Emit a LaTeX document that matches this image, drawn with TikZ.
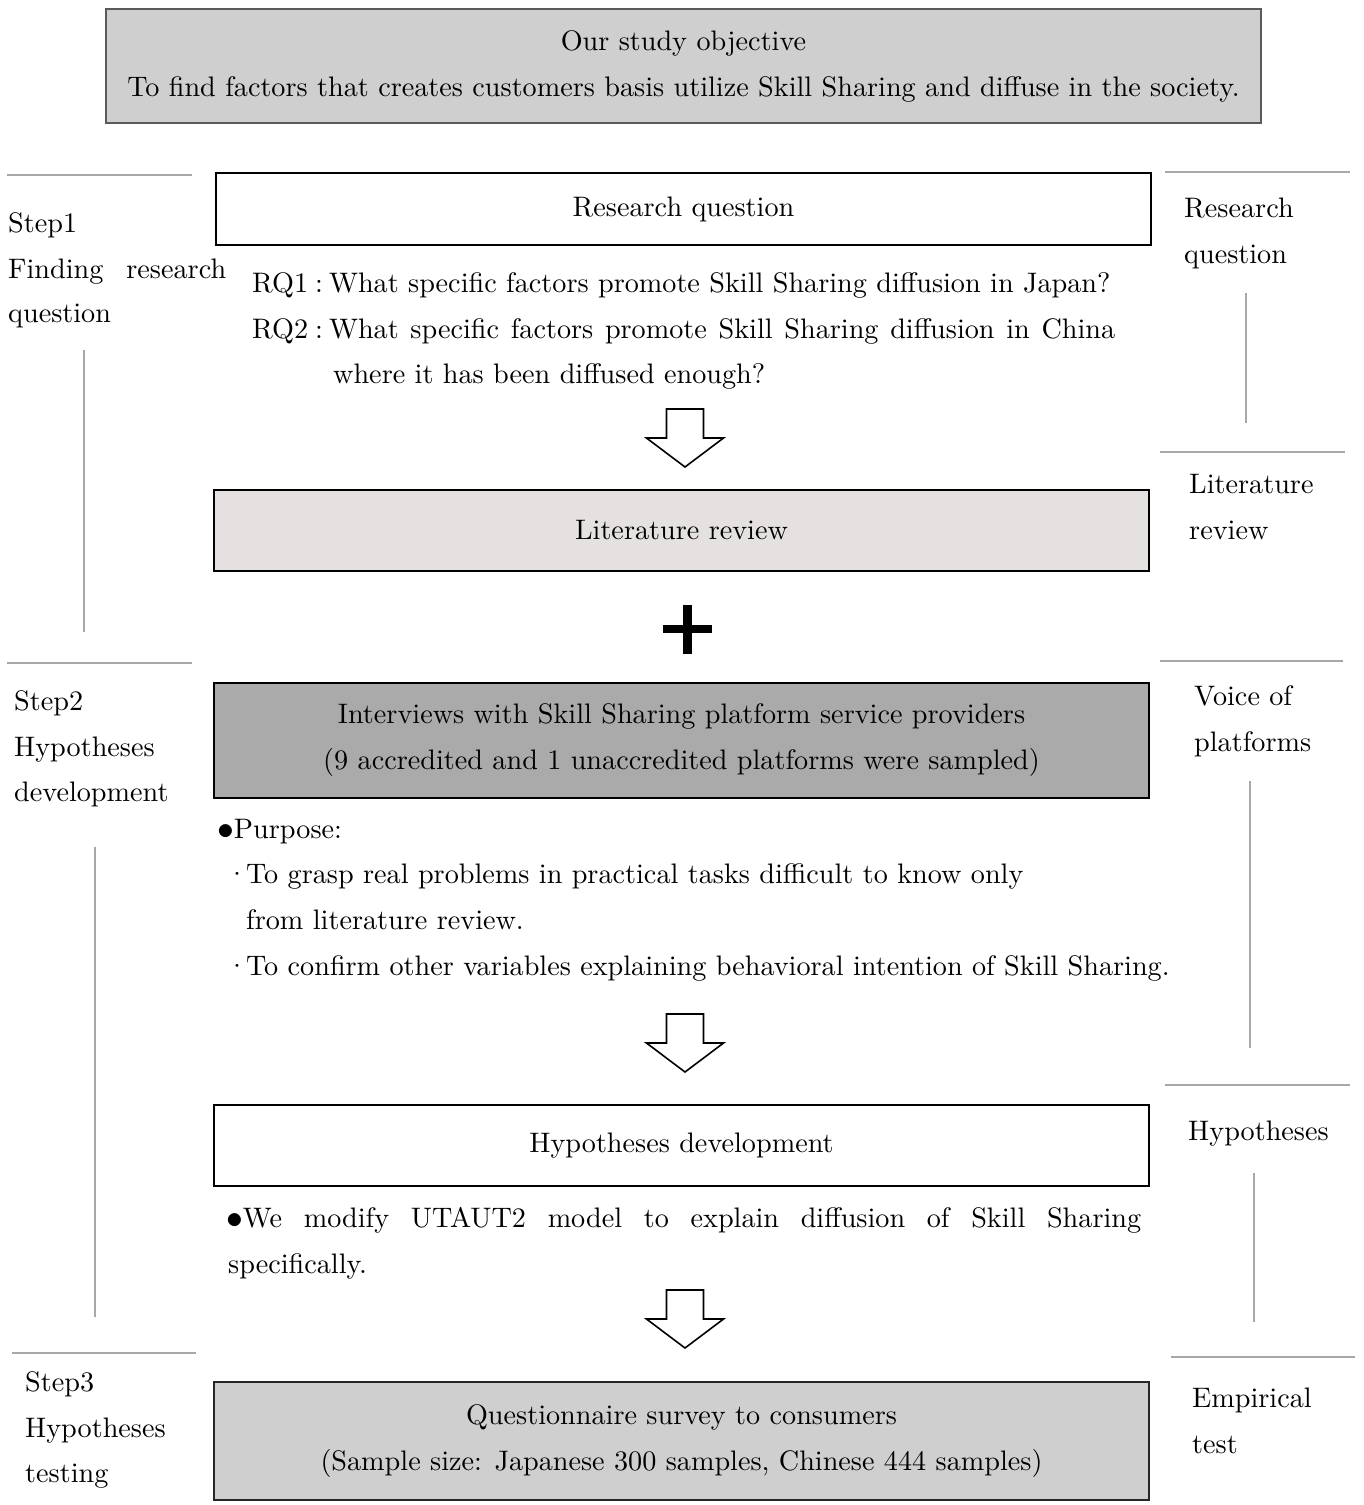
\documentclass[tikz,border=0pt]{standalone}
\usepackage{fontspec}
\setmainfont{lmroman10-regular}[Extension=.otf]
\usetikzlibrary{calc}
\definecolor{objfill}{HTML}{CFCFCF}
\definecolor{objline}{HTML}{5A5A5A}
\definecolor{litfill}{HTML}{E6E1E1}
\definecolor{intfill}{HTML}{AAAAAA}
\definecolor{survfill}{HTML}{CFCFCF}
\definecolor{sepgray}{HTML}{A8A8A8}
\newcommand{\bigdot}{\raisebox{-1.5pt}{\scalebox{1.35}{$\bullet$}}}
\tikzset{
  txt/.style={font=\fontsize{28.2}{46}\selectfont, inner sep=0pt, anchor=base west},
  boxbase/.style={rectangle, minimum width=935pt, font=\fontsize{28.2}{46}\selectfont, align=center, inner sep=0pt},
  objbox/.style={rectangle, draw=objline, line width=1.8pt, fill=objfill, minimum width=1155pt, minimum height=114pt, font=\fontsize{28.2}{46}\selectfont, align=center, inner sep=0pt},
  plainbox/.style={boxbase, draw=black, line width=2.5pt, fill=white},
  litbox/.style={boxbase, draw=black, line width=2.5pt, fill=litfill},
  intbox/.style={boxbase, draw=black, line width=2.5pt, fill=intfill},
  survbox/.style={boxbase, draw=black!85, line width=2.5pt, fill=survfill},
  sepline/.style={draw=sepgray, line width=2.4pt},
  hollowarrow/.style={draw=black, line width=1.6pt, fill=white, line join=miter},
}
\newcommand{\dnarrow}[1]{%
  \draw[hollowarrow, shift={#1}] (-18.5,0) -- (18.5,0) -- (18.5,29) -- (38.5,29)
    -- (0,58) -- (-38.5,29) -- (-18.5,29) -- cycle;}
\begin{document}
\begin{tikzpicture}[x=1pt, y=-1pt]
\useasboundingbox (0,0) rectangle (1364,1505);

% objective
\node[objbox] (obj) at (683.5,66) {Our study objective\\To find factors that creates customers basis utilize Skill Sharing and diffuse in the society.};

% separators on the left
\draw[sepline] (7,175) -- (192,175);
\draw[sepline] (7,663) -- (192,663);
\draw[sepline] (12,1353) -- (196,1353);
\draw[sepline] (84,350) -- (84,632);
\draw[sepline] (95,847) -- (95,1317);
% separators on the right
\draw[sepline] (1165,172) -- (1350,172);
\draw[sepline] (1160,452) -- (1345,452);
\draw[sepline] (1160,661) -- (1343,661);
\draw[sepline] (1165,1085) -- (1350,1085);
\draw[sepline] (1171,1357) -- (1355,1357);
\draw[sepline] (1246,293) -- (1246,423);
\draw[sepline] (1250,781) -- (1250,1048);
\draw[sepline] (1254,1173) -- (1254,1322);

% step labels
\node[txt] (s1a) at (8,232) {Step1};
\node[txt] (s1b) at (8,278) {\makebox[218pt][s]{Finding\hfill research}};
\node[txt] (s1c) at (8,322) {question};
\node[txt] (s2a) at (14,710) {Step2};
\node[txt] (s2b) at (14,756) {Hypotheses};
\node[txt] (s2c) at (14,801) {development};
\node[txt] (s3a) at (25,1391) {Step3};
\node[txt] (s3b) at (25,1437) {Hypotheses};
\node[txt] (s3c) at (25,1482) {testing};

% right-hand labels
\node[txt] (r1a) at (1184,217) {Research};
\node[txt] (r1b) at (1184,263) {question};
\node[txt] (r2a) at (1189,493) {Literature};
\node[txt] (r2b) at (1189,539) {review};
\node[txt] (r3a) at (1194,705) {Voice of};
\node[txt] (r3b) at (1194,751) {platforms};
\node[txt] (r4a) at (1188,1140) {Hypotheses};
\node[txt] (r5a) at (1192,1407) {Empirical};
\node[txt] (r5b) at (1192,1453) {test};

% step 1
\node[plainbox, minimum height=72pt] (rq) at (683.5,209) {Research question};
\node[txt] (rq1) at (252,292) {RQ1\hspace{7pt}:\hspace{6pt}What specific factors promote Skill Sharing diffusion in Japan?};
\node[txt] (rq2) at (252,338) {\makebox[863pt][s]{RQ2\hspace{7pt}:\hspace{6pt}What\hfill specific\hfill factors\hfill promote\hfill Skill\hfill Sharing\hfill diffusion\hfill in\hfill China}};
\node[txt] (rq2b) at (333,383) {where it has been diffused enough?};
\dnarrow{(685,409)}
\node[litbox, minimum height=81pt] (lit) at (681.5,530.5) {Literature review};
\draw[line width=8.5pt] (663,629) -- (712,629);
\draw[line width=8.5pt] (687.5,605) -- (687.5,654);

% step 2
\node[intbox, minimum height=115pt] (int) at (681.5,740.5) {Interviews with Skill Sharing platform service providers\\(9 accredited and 1 unaccredited platforms were sampled)};
\node[txt] (pur) at (217,838) {\bigdot Purpose:};
\node[txt] (pur1) at (226,883) {\makebox[20pt][l]{\textperiodcentered}To grasp real problems in practical tasks difficult to know only};
\node[txt] (pur1b) at (246,929) {from literature review.};
\node[txt] (pur2) at (226,975) {\makebox[20pt][l]{\textperiodcentered}To confirm other variables explaining behavioral intention of Skill Sharing.};
\dnarrow{(685,1014)}
\node[plainbox, minimum height=81pt] (hyp) at (681.5,1145.5) {Hypotheses development};
\node[txt] (we) at (226,1227) {\makebox[915pt][s]{\bigdot We\hfill modify\hfill UTAUT2\hfill model\hfill to\hfill explain\hfill diffusion\hfill of\hfill Skill\hfill Sharing}};
\node[txt] (wespec) at (228,1273) {specifically.};
\dnarrow{(685,1290)}

% step 3
\node[survbox, minimum height=118pt] (surv) at (681.5,1441) {Questionnaire survey to consumers\\(Sample size: Japanese 300 samples, Chinese 444 samples)};
\end{tikzpicture}
\end{document}
